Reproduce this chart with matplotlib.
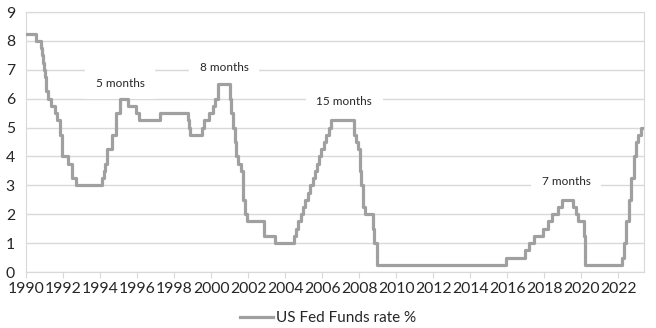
import pandas as pd
import matplotlib.pyplot as plt

# Fed funds target rate (upper bound), date of each change
change_dates = [
    "1990-01-01", "1990-07-13", "1990-10-29", "1990-11-13", "1990-12-07", "1990-12-19",
    "1991-01-09", "1991-02-01", "1991-03-08", "1991-04-30", "1991-08-06", "1991-09-13",
    "1991-10-31", "1991-11-06", "1991-12-06", "1991-12-20",
    "1992-04-09", "1992-07-02", "1992-09-04",
    "1994-02-04", "1994-03-22", "1994-04-18", "1994-05-17", "1994-08-16", "1994-11-15",
    "1995-02-01", "1995-07-06", "1995-12-19", "1996-01-31", "1997-03-25",
    "1998-09-29", "1998-10-15", "1998-11-17",
    "1999-06-30", "1999-08-24", "1999-11-16",
    "2000-02-02", "2000-03-21", "2000-05-16",
    "2001-01-03", "2001-01-31", "2001-03-20", "2001-04-18", "2001-05-15", "2001-06-27",
    "2001-08-21", "2001-09-17", "2001-10-02", "2001-11-06", "2001-12-11",
    "2002-11-06", "2003-06-25",
    "2004-06-30", "2004-08-10", "2004-09-21", "2004-11-10", "2004-12-14",
    "2005-02-02", "2005-03-22", "2005-05-03", "2005-06-30", "2005-08-09", "2005-09-20",
    "2005-11-01", "2005-12-13",
    "2006-01-31", "2006-03-28", "2006-05-10", "2006-06-29",
    "2007-09-18", "2007-10-31", "2007-12-11",
    "2008-01-22", "2008-01-30", "2008-03-18", "2008-04-30", "2008-10-08", "2008-10-29",
    "2008-12-16",
    "2015-12-16", "2016-12-14",
    "2017-03-15", "2017-06-14", "2017-12-13",
    "2018-03-21", "2018-06-13", "2018-09-26", "2018-12-19",
    "2019-07-31", "2019-09-18", "2019-10-30",
    "2020-03-03", "2020-03-15",
    "2022-03-16", "2022-05-04", "2022-06-15", "2022-07-27", "2022-09-21", "2022-11-02",
    "2022-12-14",
    "2023-02-01", "2023-03-22", "2023-04-20",
]
rates = [
    8.25, 8.00, 7.75, 7.50, 7.25, 7.00,
    6.75, 6.25, 6.00, 5.75, 5.50, 5.25,
    5.00, 4.75, 4.50, 4.00,
    3.75, 3.25, 3.00,
    3.25, 3.50, 3.75, 4.25, 4.75, 5.50,
    6.00, 5.75, 5.50, 5.25, 5.50,
    5.25, 5.00, 4.75,
    5.00, 5.25, 5.50,
    5.75, 6.00, 6.50,
    6.00, 5.50, 5.00, 4.50, 4.00, 3.75,
    3.50, 3.00, 2.50, 2.00, 1.75,
    1.25, 1.00,
    1.25, 1.50, 1.75, 2.00, 2.25,
    2.50, 2.75, 3.00, 3.25, 3.50, 3.75,
    4.00, 4.25,
    4.50, 4.75, 5.00, 5.25,
    4.75, 4.50, 4.25,
    3.50, 3.00, 2.25, 2.00, 1.50, 1.00,
    0.25,
    0.50, 0.75,
    1.00, 1.25, 1.50,
    1.75, 2.00, 2.25, 2.50,
    2.25, 2.00, 1.75,
    1.25, 0.25,
    0.50, 1.00, 1.75, 2.50, 3.25, 4.00,
    4.50,
    4.75, 5.00, 5.00,
]

# length of each hold period at the top of a cycle
notes = ["5 months", "8 months", "15 months", "7 months"]
note_x = [1995.1, 2000.7, 2007.2, 2019.2]
note_y = [6.53, 7.08, 5.91, 3.13]

d = pd.to_datetime(change_dates)
years = d.year + (d.dayofyear - 1) / 365.25

plt.rcParams['font.family'] = ['Lato', 'DejaVu Sans']
grid_col = '#D9D9D9'
text_col = '#262626'

fig = plt.figure(figsize=(6.56, 3.28), dpi=100)
ax = fig.add_axes([26 / 656, 1 - 272 / 328, 618 / 656, 260 / 328])

ax.plot(years, rates, drawstyle='steps-post', color='#A0A0A0', lw=2.3,
        zorder=3, label='US Fed Funds rate %')

for t, x, y in zip(notes, note_x, note_y):
    ax.text(x, y, t, ha='center', va='center', fontsize=8.5, color=text_col,
            zorder=2, bbox=dict(boxstyle='square,pad=0.9', fc='white', ec='none'))

ax.set_xlim(1990, 2023.4)
ax.set_ylim(0, 9)
ax.set_xticks(range(1990, 2023, 2))
ax.set_yticks(range(0, 10))
ax.grid(axis='y', color=grid_col, lw=1, zorder=0)
ax.set_axisbelow(True)
for s in ax.spines.values():
    s.set_color(grid_col)
ax.tick_params(axis='x', length=4, color=grid_col, labelsize=11.3, pad=3,
               labelcolor=text_col)
ax.tick_params(axis='y', length=0, labelsize=11.3, pad=8, labelcolor=text_col)

fig.legend(loc='center', bbox_to_anchor=(0.5, 1 - 318 / 328), frameon=False,
           fontsize=11, handlelength=2.2, handletextpad=0.2,
           labelcolor=text_col)

fig.savefig('out.png', dpi=100)
